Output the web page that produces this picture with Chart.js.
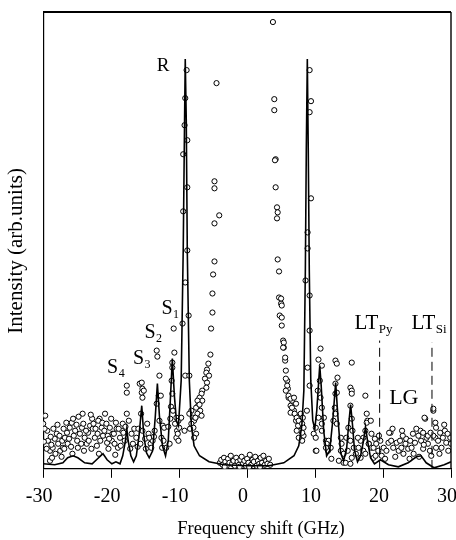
<!DOCTYPE html>
<html>
<head>
<meta charset="utf-8">
<script src="https://cdn.jsdelivr.net/npm/chart.js@4"></script>
<style>
html, body { margin: 0; padding: 0; background: #fff; }
</style>
</head>
<body>
<canvas id="spectrum" width="456" height="540"></canvas>
<script>
// fitted spectrum (GHz, arb. units)
const fitShift = [-30.0, -28.3, -27.1, -26.4, -25.6, -24.9, -23.9, -22.8, -22.0, -21.2, -20.6, -19.9, -19.3, -18.7, -18.3, -17.9, -17.7, -17.5, -17.1, -16.7,
  -16.3, -15.9, -15.5, -15.2, -14.8, -14.4, -13.9, -13.5, -13.2, -12.9, -12.45, -12.0, -11.6, -11.3, -11.0, -10.7, -10.4, -10.1, -9.7, -9.4,
  -9.2, -9.1, -8.95, -8.8, -8.5, -8.2, -7.8, -7.0, -5.6, -3.4, 0, 3.2, 5.4, 6.9, 7.6, 8.05, 8.35, 8.57, 8.71, 8.86,
  9.0, 9.15, 9.37, 9.66, 9.96, 10.25, 10.54, 10.69, 10.9, 11.27, 11.7, 12.15, 12.6, 13.03, 13.4, 13.76, 14.2, 14.64, 14.93, 15.23,
  15.52, 15.81, 16.25, 16.7, 17.13, 17.42, 17.72, 18.16, 18.74, 19.62, 20.8, 22.25, 23.7, 24.9, 25.6, 26.35, 27.5, 29.0, 30.0];
const fitIntensity = [5, 4, 6, 11, 13, 11, 6, 5, 10, 15, 9, 5, 7, 5, 13, 28, 40, 28, 13, 7,
  13, 33, 63, 33, 16, 11, 18, 53, 85, 53, 23, 13, 28, 68, 110, 73, 48, 43, 88, 218,
  348, 409, 348, 218, 88, 43, 23, 13, 7, 4, 3, 3, 6, 13, 23, 43, 78, 198, 318, 409,
  318, 198, 88, 48, 40, 58, 88, 103, 83, 38, 13, 18, 48, 86, 48, 16, 8, 20, 43, 64,
  43, 18, 7, 13, 28, 42, 28, 11, 5, 9, 4, 2, 6, 12, 13, 6, 1, 4, 7];

// measured points [shift GHz, intensity]
const backgroundLeft = [[-29.7,53],[-29.4,38],[-29.3,28],[-29.0,18],[-29.0,8],[-28.7,11],[-28.6,21],[-28.3,30],[-28.0,35],[-27.8,25],
  [-27.5,18],[-27.2,28],[-27.1,21],[-26.8,31],[-26.5,36],[-26.4,25],[-26.1,41],[-25.8,46],[-25.6,50],[-25.3,38],
  [-25.0,28],[-24.9,21],[-24.6,35],[-24.3,41],[-24.2,55],[-23.9,31],[-23.6,25],[-23.4,36],[-23.1,43],[-22.8,50],
  [-22.7,40],[-22.4,31],[-22.1,23],[-22.0,35],[-21.7,50],[-21.4,41],[-21.2,33],[-20.9,55],[-20.6,26],[-20.5,33],
  [-20.2,41],[-19.9,28],[-19.8,35],[-19.5,25],[-19.2,40],[-19.0,21],[-18.7,31],[-18.4,38],[-18.3,45],[-18.0,28],
  [-29.8,40],[-29.5,20],[-28.9,32],[-28.5,40],[-28.2,15],[-27.9,44],[-27.6,33],[-27.3,12],[-26.9,20],[-26.6,46],
  [-26.2,30],[-25.9,22],[-25.5,33],[-25.1,44],[-24.8,52],[-24.4,25],[-24.1,45],[-23.7,38],[-23.3,28],[-23.0,54],
  [-22.6,45],[-22.3,40],[-21.9,48],[-21.6,28],[-21.3,46],[-21.0,38],[-20.7,45],[-20.3,30],[-20.0,50],[-19.6,35],
  [-19.3,46],[-18.9,40],[-18.6,23],[-18.2,36],[-30.0,45],[-29.9,27],[-28.8,24],[-27.0,40],[-25.7,15],[-24.0,18],
  [-22.9,20],[-21.8,15],[-20.4,20],[-19.4,14]];
const satellitesLeft = [[-17.7,55],[-17.7,83],[-17.7,76],[-17.4,48],[-17.0,35],[-16.8,25],[-16.3,31],[-17.9,42],[-17.2,20],[-16.6,40],
  [-16.1,22],[-15.8,85],[-15.5,76],[-15.4,38],[-15.5,86],[-15.4,80],[-15.2,78],[-15.4,71],[-15.6,55],[-15.0,30],
  [-14.7,45],[-14.2,25],[-14.9,20],[-14.5,35],[-16.0,40],[-15.7,25],[-13.3,118],[-13.2,112],[-12.9,93],[-13.0,73],
  [-12.7,73],[-13.3,65],[-12.4,43],[-12.2,41],[-12.6,31],[-12.3,28],[-11.9,21],[-12.5,21],[-13.6,38],[-13.9,28],
  [-14.1,21],[-14.4,31],[-13.7,32],[-12.9,48],[-11.6,42],[-11.4,25],[-10.8,140],[-10.7,116],[-11.0,106],[-11.0,101],
  [-11.1,88],[-11.0,75],[-11.3,50],[-10.4,51],[-10.1,48],[-10.3,38],[-10.0,41],[-10.4,31],[-10.1,28],[-10.6,45],
  [-10.2,35],[-11.2,62],[-10.9,58]];
const peakLeft = [[-8.9,398],[-9.1,370],[-9.2,343],[-8.8,328],[-9.4,314],[-8.8,281],[-9.4,257],[-8.8,218],[-9.1,186],[-8.6,153],
  [-9.5,145],[-9.1,93],[-8.5,93],[-9.7,51],[-9.2,38],[-8.2,58],[-8.5,55],[-8.0,51],[-7.8,48],[-8.2,45],
  [-7.9,41],[-7.5,35],[-7.8,31],[-7.6,51],[-8.4,40]];
const wingLeft = [[-4.5,385],[-4.8,287],[-4.8,280],[-4.1,253],[-4.8,245],[-4.8,207],[-5.0,194],[-5.1,175],[-5.1,156],[-5.3,140],
  [-5.4,114],[-5.7,105],[-5.9,99],[-6.0,96],[-5.6,93],[-6.2,90],[-5.9,86],[-6.0,81],[-6.6,78],[-6.7,75],
  [-7.0,71],[-6.6,68],[-7.3,68],[-7.2,63],[-7.5,61],[-6.9,58],[-7.3,55],[-7.6,51],[-6.7,53],[-7.0,64]];
const centre = [[-4.0,6],[-3.8,9],[-3.6,4],[-3.4,11],[-3.2,7],[-3.0,3],[-2.8,10],[-2.6,6],[-2.4,13],[-2.2,5],
  [-2.0,8],[-1.8,3],[-1.6,11],[-1.4,7],[-1.2,4],[-1.0,9],[-0.8,12],[-0.6,5],[-0.4,8],[-0.2,3],
  [0.0,10],[0.2,6],[0.4,14],[0.6,4],[0.8,9],[1.0,7],[1.2,12],[1.4,3],[1.6,8],[1.8,5],
  [2.0,11],[2.2,6],[2.4,13],[2.6,4],[2.8,8],[3.0,5],[3.2,10],[3.4,4],[-3.3,2],[0.3,2],[1.9,2],[-1.1,2]];
const wingRight = [[3.8,446],[4.0,369],[4.0,358],[4.2,309],[4.1,308],[4.2,281],[4.4,261],[4.5,256],[4.4,250],[4.5,209],
  [4.7,197],[4.7,171],[5.0,165],[4.8,153],[5.1,143],[5.3,128],[5.4,121],[5.6,108],[5.7,98],[5.9,88],
  [6.0,80],[6.1,71],[6.6,68],[6.9,58],[7.0,55],[7.6,50],[7.9,45],[7.9,38],[8.3,33],[6.4,63],
  [7.2,48],[7.5,43],[8.1,28],[7.3,38],[7.6,31],[5.0,170],[5.1,163],[5.1,151],[5.4,126],[5.3,121],
  [5.6,111],[5.7,90],[5.9,83],[5.7,78],[6.1,73],[6.4,70],[6.9,71],[7.2,65],[6.6,61],[6.4,56],
  [7.0,55],[7.3,51],[7.6,48],[7.9,55],[8.1,45],[8.1,36],[8.3,41],[8.2,51]];
const peakRight = [[9.2,398],[9.4,367],[9.2,356],[9.4,270],[8.9,236],[8.9,220],[8.6,188],[9.2,173],[9.2,138],[8.9,101],
  [9.2,83],[8.8,58]];
const satellitesRight = [[10.8,120],[10.5,109],[11.0,103],[10.7,88],[10.4,78],[10.8,71],[11.0,61],[10.5,51],[11.3,51],[10.1,41],
  [9.8,35],[10.1,31],[11.0,38],[11.6,28],[10.1,18],[10.2,18],[13.0,108],[13.2,105],[13.3,91],[13.0,75],
  [12.9,61],[13.0,55],[12.7,48],[13.2,45],[12.0,28],[11.7,25],[12.3,21],[11.9,18],[12.4,10],[11.6,21],
  [13.8,31],[13.9,25],[13.8,18],[14.2,15],[13.5,8],[14.2,6],[13.0,85],[13.2,76],[11.0,45],[15.4,106],
  [15.2,81],[15.4,78],[15.2,63],[15.4,50],[14.9,41],[15.5,38],[14.6,31],[15.2,28],[15.7,21],[14.8,18],
  [15.4,11],[16.0,15],[14.5,6],[15.2,5],[15.4,75],[17.4,73],[17.6,55],[17.7,48],[17.4,38],[17.1,31],
  [16.7,28],[16.4,21],[17.1,18],[17.4,15],[16.7,11],[17.9,25],[18.3,21],[18.6,11],[17.6,46],[16.3,31]];
const backgroundRight = [[18.2,48],[18.3,35],[17.9,25],[18.6,21],[19.0,25],[19.3,18],[18.9,13],[19.6,28],[20.1,21],[19.8,13],
  [20.5,18],[20.8,26],[21.1,36],[21.2,28],[21.5,21],[22.0,26],[22.3,18],[22.5,28],[22.7,21],[23.0,15],
  [23.3,25],[23.4,30],[23.7,20],[24.0,28],[24.2,21],[24.5,15],[24.7,26],[25.2,33],[25.5,38],[25.6,28],
  [25.9,20],[26.2,50],[26.4,31],[26.6,25],[26.9,18],[27.1,13],[27.4,58],[27.7,46],[27.8,41],[27.7,31],
  [28.1,28],[28.4,36],[28.6,21],[28.8,31],[29.1,38],[29.3,26],[29.6,18],[29.9,31],[27.8,21],[27.4,33],
  [26.6,33],[25.9,36],[20.9,36],[26.1,51],[27.4,60],[18.8,30],[19.4,33],[20.3,10],[21.8,12],[22.9,33],
  [23.9,10],[24.9,40],[25.3,12],[26.0,24],[27.0,36],[28.3,15],[29.0,44],[29.5,35],[30.0,25],[21.4,40],
  [22.8,38],[24.4,35]];

// longitudinal thresholds (GHz) and the height the dashed markers reach
const thresholdShift = [19.5, 27.2];
const thresholdTop = [128, 126];

const xTicks = [-30, -20, -10, 0, 10, 20, 30];

// annotation text, anchored in data coords
const peakLabels = [
  { text: "R", sub: "", x: -13.3, y: 397, size: 19 },
  { text: "S", sub: "1", x: -12.6, y: 155, size: 20 },
  { text: "S", sub: "2", x: -15.1, y: 131, size: 20 },
  { text: "S", sub: "3", x: -16.8, y: 105, size: 20 },
  { text: "S", sub: "4", x: -20.6, y: 96, size: 20 },
  { text: "LT", sub: "Py", x: 15.8, y: 140, size: 21 },
  { text: "LT", sub: "Si", x: 24.2, y: 140, size: 21 },
  { text: "LG", sub: "", x: 20.9, y: 65, size: 22 }
];

const serif = "'Liberation Serif', 'Times New Roman', serif";
const measured = [].concat(backgroundLeft, satellitesLeft, peakLeft, wingLeft, centre,
  wingRight, peakRight, satellitesRight, backgroundRight).map(p => ({ x: p[0], y: p[1] }));

const dashedSets = thresholdShift.map((s, i) => ({
  type: "line",
  data: [{ x: s, y: 0 }, { x: s, y: thresholdTop[i] }],
  borderColor: "#000",
  borderWidth: 1,
  borderDash: [9, 5],
  pointRadius: 0,
  order: 0
}));

const framePlugin = {
  id: "frame",
  afterDraw(chart) {
    const a = chart.chartArea;
    const c = chart.ctx;
    c.save();
    c.strokeStyle = "#000";
    c.lineWidth = 2.2;
    c.beginPath();
    c.moveTo(a.left, a.top);
    c.lineTo(a.right, a.top);
    c.stroke();
    c.lineWidth = 1.4;
    c.beginPath();
    c.moveTo(a.right, a.top);
    c.lineTo(a.right, a.bottom);
    c.stroke();
    c.restore();
  }
};

const labelPlugin = {
  id: "peakLabels",
  afterDraw(chart) {
    const c = chart.ctx;
    const xs = chart.scales.x, ys = chart.scales.y;
    c.save();
    c.fillStyle = "#000";
    c.textBaseline = "alphabetic";
    c.textAlign = "left";
    peakLabels.forEach(l => {
      const px = xs.getPixelForValue(l.x);
      const py = ys.getPixelForValue(l.y);
      c.font = l.size + "px " + serif;
      c.fillText(l.text, px, py);
      if (l.sub) {
        const w = c.measureText(l.text).width;
        c.font = Math.round(l.size * 0.62) + "px " + serif;
        c.fillText(l.sub, px + w + 0.5, py + 4);
      }
    });
    c.restore();
  }
};

new Chart(document.getElementById("spectrum"), {
  type: "scatter",
  data: {
    datasets: [
      {
        type: "line",
        data: fitShift.map((s, i) => ({ x: s, y: fitIntensity[i] })),
        borderColor: "#000",
        borderWidth: 1.6,
        pointRadius: 0,
        tension: 0,
        order: 0
      },
      {
        data: measured,
        pointRadius: 2.6,
        pointBorderWidth: 1,
        borderColor: "#000",
        backgroundColor: "#fff",
        order: 1
      }
    ].concat(dashedSets)
  },
  options: {
    responsive: false,
    animation: false,
    layout: { padding: { top: 12, right: 4, left: 0, bottom: 0 } },
    plugins: { legend: { display: false }, tooltip: { enabled: false } },
    scales: {
      x: {
        type: "linear",
        min: -30,
        max: 30,
        afterBuildTicks: axis => { axis.ticks = xTicks.map(v => ({ value: v })); },
        afterFit: axis => { axis.paddingRight = 0; },
        ticks: { color: "#000", font: { family: serif, size: 20 }, padding: 7, labelOffset: -4 },
        grid: { drawOnChartArea: false, drawTicks: true, tickLength: 9, color: "#000" },
        border: { display: true, color: "#000", width: 1.2 },
        title: { display: true, text: "\u00A0\u00A0\u00A0\u00A0\u00A0\u00A0Frequency shift (GHz)", color: "#000", font: { family: serif, size: 18.5 }, padding: { top: 2, bottom: 0 } }
      },
      y: {
        min: 0,
        max: 456,
        ticks: { display: false },
        grid: { display: false, drawTicks: false },
        border: { display: true, color: "#000", width: 1.2 },
        title: { display: true, text: "Intensity (arb.units)\u00A0\u00A0\u00A0\u00A0", color: "#000", font: { family: serif, size: 21 }, padding: { top: 4, bottom: 14 } }
      }
    }
  },
  plugins: [framePlugin, labelPlugin]
});
</script>
</body>
</html>
